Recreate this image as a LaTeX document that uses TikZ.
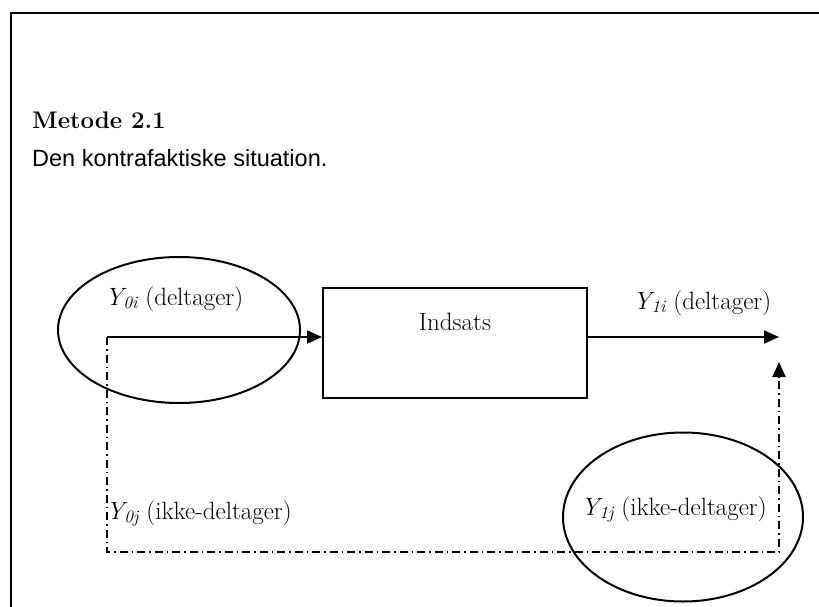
\documentclass[tikz,border=0pt]{standalone}
\usepackage{fontspec}
\newfontfamily\arialfont{Liberation Sans}
\usepackage{tikz}
\usetikzlibrary{shapes}
\usetikzlibrary{arrows.meta}
\tikzset{ proc_box/.style = {rectangle, draw, line width=2pt, minimum width=264pt, minimum height=110pt} }
\tikzset{ group_ell/.style = {ellipse, draw, line width=2pt} }
\tikzset{ lbl/.style = {inner sep=0pt, anchor=base west, font=\fontsize{25}{30}\selectfont} }
\tikzset{ flow/.style = {line width=2pt, -{Triangle[length=15pt, width=13pt]}} }
\tikzset{ cf_flow/.style = {flow, dash pattern=on 8pt off 4pt on 1.5pt off 4pt} }

\begin{document}
\begin{tikzpicture}[x=1pt, y=-1pt]
            \useasboundingbox (0,0) rectangle (819,607);
            \draw[line width=2.3pt] (11,607) -- (11,13) -- (819,13);
            \node[inner sep=0pt, anchor=base west, font=\fontsize{24}{29}\selectfont\bfseries] (h) at (32,129) {Metode 2.1};
            \node[inner sep=0pt, anchor=base west, font=\fontsize{23.5}{28}\selectfont\arialfont] (s) at (32,166) {Den kontrafaktiske situation.};
            \node[proc_box] (box) at (455,343) {};
            \node[lbl, anchor=base] (ind) at (455,330) {Indsats};
            \node[group_ell, minimum width=242pt, minimum height=146pt] (e0) at (179,330) {};
            \node[group_ell, minimum width=240pt, minimum height=169pt] (e1) at (683,517) {};
            \node[lbl] (0) at (105,305) {\textit{Y\textsubscript{0i}} (deltager)};
            \node[lbl] (1) at (633,309) {\textit{Y\textsubscript{1i}} (deltager)};
            \node[lbl] (2) at (106,519) {\textit{Y\textsubscript{0j}} (ikke-deltager)};
            \node[lbl] (3) at (581,515) {\textit{Y\textsubscript{1j}} (ikke-deltager)};
            \coordinate (a) at (107,337);
            \coordinate (b) at (779,337);
            \coordinate (c) at (779,552);
            \coordinate (d) at (779,362);
            \draw[flow] (a) -- (a -| box.west);
            \draw[flow] (box.east |- a) -- (b);
            \draw[cf_flow] (a) |- (c) -- (d);
        \end{tikzpicture}
\end{document}
